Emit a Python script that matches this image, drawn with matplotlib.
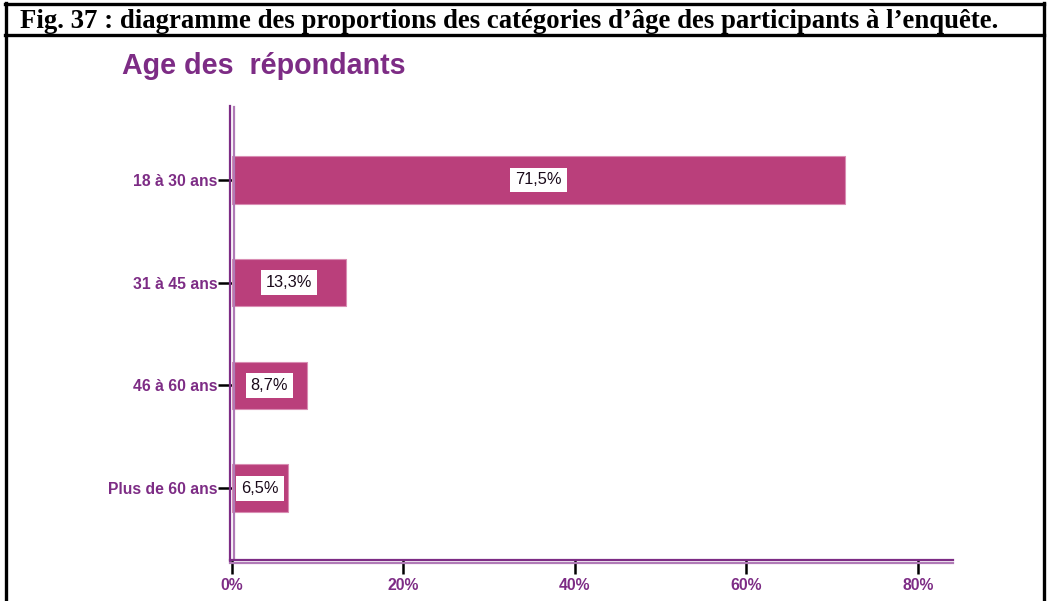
import matplotlib
matplotlib.use("Agg")
import matplotlib.pyplot as plt
from matplotlib.lines import Line2D
from matplotlib.ticker import FuncFormatter

# Survey data: age groups of respondents (percent)
categories = ["18 à 30 ans", "31 à 45 ans", "46 à 60 ans", "Plus de 60 ans"]
values = [71.5, 13.3, 8.7, 6.5]
x_ticks = [0, 20, 40, 60, 80]

fig_title = "Fig. 37 : diagramme des proportions des catégories d’âge des participants à l’enquête."
chart_title = "Age des  répondants"

W, H = 1047, 601
DPI = 100
fig = plt.figure(figsize=(W / DPI, H / DPI), dpi=DPI)
fig.patch.set_facecolor("white")

PURPLE = "#7D2C85"
LIGHT_PURPLE = "#B07AB6"
BAR = "#BA3F7B"
BAR_EDGE = "#D98DB3"


def px(x, y):
    """Convert pixel coordinates (origin top-left) to figure fraction."""
    return x / W, 1 - y / H


# Plot area in pixels
left_px, right_px = 232, 953
top_px, bottom_px = 106, 560
l, b = px(left_px, bottom_px)
r, t = px(right_px, top_px)
ax = fig.add_axes([l, b, r - l, t - b])

ypos = list(range(len(categories)))
ax.barh(ypos, values, height=0.46, color=BAR, edgecolor=BAR_EDGE, linewidth=0.8, zorder=2)

for y, v in zip(ypos, values):
    ax.text(v / 2, y, f"{v:.1f}".replace(".", ",") + "%", ha="center", va="center",
            fontsize=11.8, color="#1a0a1a", family="Liberation Sans",
            bbox=dict(boxstyle="square,pad=0.3", facecolor="white", edgecolor="none"),
            zorder=3)

ax.set_xlim(0, 84.1)
ax.set_ylim(3.70, -0.72)
ax.set_yticks(ypos)
ax.set_yticklabels(categories)
ax.set_xticks(x_ticks)
ax.xaxis.set_major_formatter(FuncFormatter(lambda v, _: f"{v:.0f}%"))

for lab in ax.get_yticklabels() + ax.get_xticklabels():
    lab.set_color(PURPLE)
    lab.set_fontweight("bold")
    lab.set_fontsize(11.3)
    lab.set_family("Liberation Sans")

ax.tick_params(axis="y", length=10, width=1.8, color="black", pad=0.5)
ax.tick_params(axis="x", length=10, width=1.8, color="black", pad=3, direction="out")
for s in ax.spines.values():
    s.set_visible(False)
ax.patch.set_alpha(0)

# Double-line axis spines
fig.add_artist(Line2D(*zip(px(230, top_px), px(230, bottom_px + 1)), color=PURPLE, lw=1.6))
fig.add_artist(Line2D(*zip(px(233.5, top_px + 1), px(233.5, bottom_px - 1)), color=LIGHT_PURPLE, lw=1.6))
fig.add_artist(Line2D(*zip(px(230, 559.5), px(953, 559.5)), color=PURPLE, lw=1.6))
fig.add_artist(Line2D(*zip(px(230, 563), px(953, 563)), color=LIGHT_PURPLE, lw=1.6))

# Chart title
fig.text(*px(122, 66), chart_title, color=PURPLE, fontsize=20.6, fontweight="bold",
         family="Liberation Sans", ha="left", va="center")

# Figure caption frame
fig.text(*px(20, 21), fig_title, color="black", fontsize=19.3, fontweight="bold",
         family="Liberation Serif", ha="left", va="center")
fig.add_artist(Line2D(*zip(px(5, 4), px(1044, 4)), color="black", lw=2.4))
fig.add_artist(Line2D(*zip(px(5, 35), px(1044, 35)), color="black", lw=2.4))
fig.add_artist(Line2D(*zip(px(6, 3), px(6, 601)), color="black", lw=2.4))
fig.add_artist(Line2D(*zip(px(1044, 3), px(1044, 601)), color="black", lw=2.4))

fig.savefig("out.png", dpi=DPI)
